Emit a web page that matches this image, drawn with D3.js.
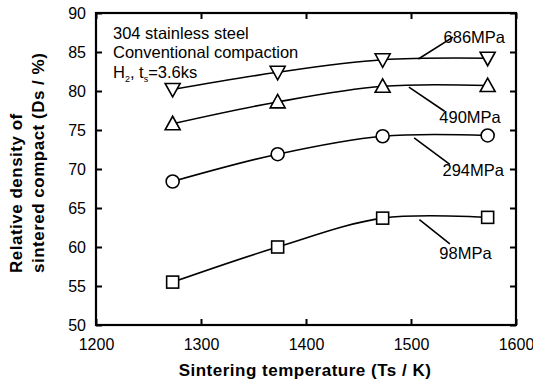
<!DOCTYPE html>
<html>
<head>
<meta charset="utf-8">
<script src="https://cdn.jsdelivr.net/npm/d3@7"></script>
<style>
  body { margin: 0; background: #fff; }
  text { font-family: "Liberation Sans", Arial, sans-serif; fill: #000; }
</style>
</head>
<body>
<div id="area"></div>
<script>
var temps = [1273, 1373, 1473, 1573];
var pressures = ["686MPa", "490MPa", "294MPa", "98MPa"];
var density686 = [80.2, 82.4, 84.0, 84.2];
var density490 = [75.8, 78.6, 80.6, 80.7];
var density294 = [68.4, 71.9, 74.2, 74.3];
var density98 = [55.5, 60.0, 63.7, 63.8];
var xTicks = [1200, 1300, 1400, 1500, 1600];
var yTicks = [50, 55, 60, 65, 70, 75, 80, 85, 90];

var width = 533, height = 384;
var x = d3.scaleLinear().domain([1200, 1600]).range([96, 516]);
var y = d3.scaleLinear().domain([50, 90]).range([325, 13]);

var svg = d3.select("#area").append("svg")
  .attr("width", width).attr("height", height);

var series = [
  { name: pressures[0], values: density686, mark: "down" },
  { name: pressures[1], values: density490, mark: "up" },
  { name: pressures[2], values: density294, mark: "circle" },
  { name: pressures[3], values: density98, mark: "square" }
];

// label positions (text anchor point) and leader line ends, in data units
var labelInfo = [
  { tx: 1531, ty: 86.9, from: [1507, 84.1], to: [1540, 86.9] },
  { tx: 1527, ty: 76.6, from: [1498, 80.5], to: [1532, 77.4] },
  { tx: 1530, ty: 69.8, from: [1503, 74.0], to: [1537, 70.6] },
  { tx: 1527, ty: 59.2, from: [1508, 63.5], to: [1537, 60.4] }
];

var line = d3.line()
  .x(function (d, i) { return x(temps[i]); })
  .y(function (d) { return y(d); })
  .curve(d3.curveCatmullRom.alpha(0.5));

series.forEach(function (s, k) {
  svg.append("path")
    .attr("d", line(s.values))
    .attr("fill", "none")
    .attr("stroke", "#000")
    .attr("stroke-width", 1.6);

  var g = svg.selectAll(".m" + k).data(s.values).enter().append("g")
    .attr("transform", function (d, i) { return "translate(" + x(temps[i]) + "," + y(d) + ")"; });
  if (s.mark == "circle") {
    g.append("circle").attr("r", 6.5);
  } else if (s.mark == "square") {
    g.append("rect").attr("x", -6).attr("y", -6).attr("width", 12).attr("height", 12);
  } else if (s.mark == "up") {
    g.append("path").attr("d", "M0,-7.5L7.5,6L-7.5,6Z");
  } else {
    g.append("path").attr("d", "M0,7.5L7.5,-6L-7.5,-6Z");
  }
  g.selectAll("*").attr("fill", "#fff").attr("stroke", "#000").attr("stroke-width", 1.6);

  var L = labelInfo[k];
  svg.append("line")
    .attr("x1", x(L.from[0])).attr("y1", y(L.from[1]))
    .attr("x2", x(L.to[0])).attr("y2", y(L.to[1]))
    .attr("stroke", "#000").attr("stroke-width", 1.6);
  svg.append("text")
    .attr("x", x(L.tx)).attr("y", y(L.ty))
    .attr("dy", "0.35em")
    .style("font-size", "16.5px")
    .text(s.name);
});

// frame with inward ticks
svg.append("rect")
  .attr("x", x(1200)).attr("y", y(90))
  .attr("width", x(1600) - x(1200)).attr("height", y(50) - y(90))
  .attr("fill", "none").attr("stroke", "#000").attr("stroke-width", 2.2);

var xAxis = svg.append("g").attr("transform", "translate(0," + y(50) + ")")
  .call(d3.axisBottom(x).tickValues(xTicks).tickSize(-6).tickPadding(14).tickFormat(d3.format("d")));
var xTop = svg.append("g").attr("transform", "translate(0," + y(90) + ")")
  .call(d3.axisTop(x).tickValues(xTicks).tickSize(-6).tickFormat(""));
var yAxis = svg.append("g").attr("transform", "translate(" + x(1200) + ",0)")
  .call(d3.axisLeft(y).tickValues(yTicks).tickSize(-6).tickPadding(10));
var yRight = svg.append("g").attr("transform", "translate(" + x(1600) + ",0)")
  .call(d3.axisRight(y).tickValues(yTicks).tickSize(-6).tickFormat(""));

[xAxis, xTop, yAxis, yRight].forEach(function (a) {
  a.select(".domain").remove();
  a.selectAll(".tick line").attr("stroke", "#000").attr("stroke-width", 2);
  a.selectAll("text").style("font-size", "16px").style("font-family", "'Liberation Sans', Arial, sans-serif");
});

// annotation
var notes = svg.append("text").attr("x", 113).style("font-size", "16.5px");
notes.append("tspan").attr("x", 113).attr("y", 39).text("304 stainless steel");
notes.append("tspan").attr("x", 113).attr("y", 58).text("Conventional compaction");
var h = notes.append("tspan").attr("x", 113).attr("y", 78);
h.append("tspan").text("H");
h.append("tspan").attr("dy", 4).style("font-size", "9px").text("2");
h.append("tspan").attr("dy", -4).text(", t");
h.append("tspan").attr("dy", 4).style("font-size", "9px").text("s");
h.append("tspan").attr("dy", -4).text("=3.6ks");

// axis titles
svg.append("text")
  .attr("x", 305).attr("y", 376)
  .attr("text-anchor", "middle")
  .style("font-size", "17px").style("font-weight", "bold").style("letter-spacing", "0.5px")
  .text("Sintering temperature (Ts / K)");

var yl = svg.append("text")
  .attr("transform", "translate(22,273) rotate(-90)")
  .attr("text-anchor", "start")
  .style("font-size", "17px").style("font-weight", "bold").style("letter-spacing", "0.5px");
yl.append("tspan").attr("x", 0).attr("y", 0).text("Relative density of");
yl.append("tspan").attr("x", 0).attr("y", 22).text("sintered compact (Ds / %)");
</script>
</body>
</html>
